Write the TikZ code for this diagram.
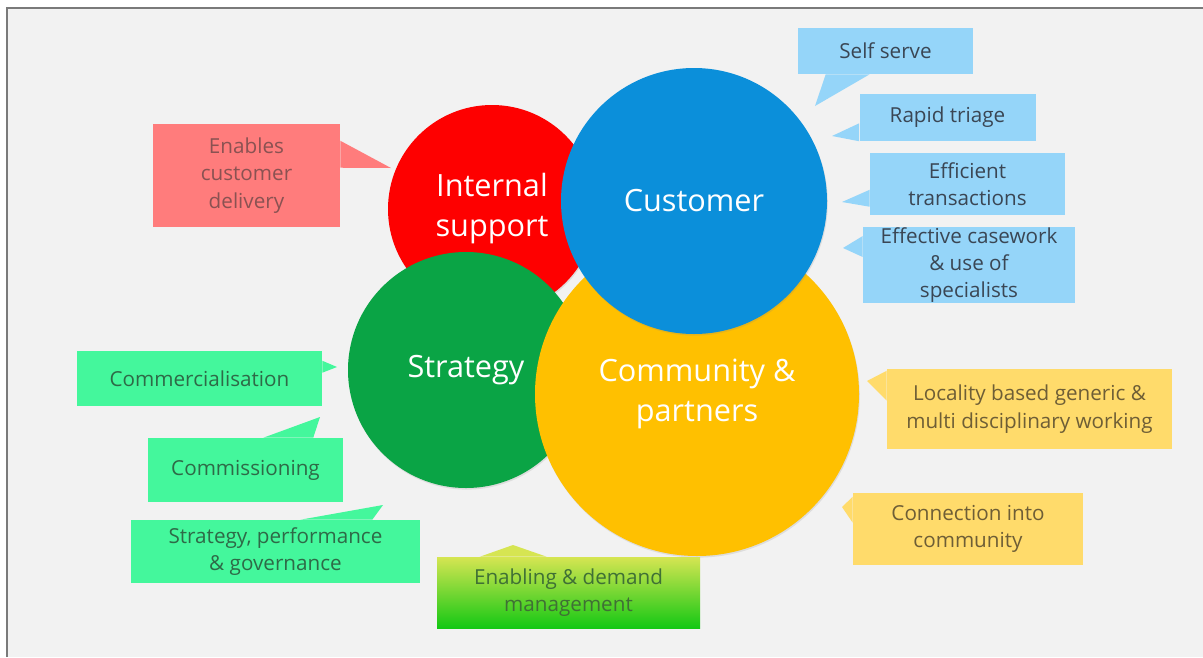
\documentclass[tikz,border=0pt]{standalone}
\usepackage{fontspec}
\setmainfont{Open Sans}
\usepackage{tikz}
\usetikzlibrary{calc,shadows}

\definecolor{slide}{HTML}{F2F2F2}
\definecolor{edge}{HTML}{7A7A7A}
\definecolor{cred}{HTML}{FE0000}
\definecolor{cblue}{HTML}{0B8FDA}
\definecolor{cgreen}{HTML}{0AA445}
\definecolor{cyellow}{HTML}{FFC000}
\definecolor{tred}{HTML}{FF7C7C}
\definecolor{tblue}{HTML}{95D5F9}
\definecolor{tmint}{HTML}{44F79C}
\definecolor{tyellow}{HTML}{FFDB6B}
\definecolor{ttop}{HTML}{D6E552}
\definecolor{tbot}{HTML}{14C814}
\definecolor{xred}{HTML}{8A5252}
\definecolor{xblue}{HTML}{3A4654}
\definecolor{xmint}{HTML}{2E6A47}
\definecolor{xyellow}{HTML}{6E5E36}
\definecolor{xgreen}{HTML}{3F7035}

\tikzset{
  bubble/.style={circle, inner sep=0pt, minimum size=#1*0.75pt, text=white, align=center,
    font=\fontsize{23}{30}\selectfont,
    drop shadow={shadow xshift=0.6pt, shadow yshift=-1.2pt, opacity=0.18}},
  tag/.style={inner sep=0pt, align=center, font=\fontsize{15.5}{20.5}\selectfont},
  wh/.style 2 args={minimum width=#1*0.75pt, minimum height=#2*0.75pt},
}

\begin{document}
\begin{tikzpicture}[x=0.75pt, y=-0.75pt]
\useasboundingbox (0,0) rectangle (1203,657);
\fill[slide] (7,8) rectangle (1203,657);
\draw[edge, line width=1.2pt] (7,657) -- (7,8) -- (1203,8);

% the four areas
\node[bubble=208, fill=cred] (int) at (492,209) {Internal\\support};
\node[bubble=236, fill=cgreen] (str) at (466,370) {Strategy};
\node[bubble=324, fill=cyellow] (com) at (697,394) {Community \&\\partners};
\node[bubble=266, fill=cblue] (cus) at (694,201) {Customer};

% internal support
\node[tag, wh={187}{103}, fill=tred, text=xred] (ecd) at (246.5,175.5) {Enables\\customer\\delivery};
\coordinate (ecdTip) at (391,168);
\fill[tred] ($(ecd.north east)+(0,17)$) -- (ecdTip) -- ($(ecd.north east)+(0,44)$) -- cycle;

% customer
\node[tag, wh={175}{46}, fill=tblue, text=xblue] (ss) at (885.5,51) {Self serve};
\node[tag, wh={176}{47}, fill=tblue, text=xblue] (rt) at (947.5,117.5) {Rapid triage};
\node[tag, wh={195}{62}, fill=tblue, text=xblue] (et) at (967.5,184) {Efficient\\transactions};
\node[tag, wh={212}{74}, fill=tblue, text=xblue] (ec) at (969,265) {Effective casework\\\& use of\\specialists};
\coordinate (ssTip) at (815,106);
\coordinate (rtTip) at (832,136);
\coordinate (etTip) at (842,202);
\coordinate (ecTip) at (843,248);
\fill[tblue] ($(ss.south west)+(28,0)$) -- (ssTip) -- ($(ss.south west)+(72,0)$) -- cycle;
\fill[tblue] ($(rt.south west)+(0,-18)$) -- (rtTip) -- (rt.south west) -- cycle;
\fill[tblue] ($(et.north west)+(0,37)$) -- (etTip) -- ($(et.north west)+(0,54)$) -- cycle;
\fill[tblue] ($(ec.north west)+(0,9)$) -- (ecTip) -- ($(ec.north west)+(0,30)$) -- cycle;

% community & partners
\node[tag, wh={285}{80}, fill=tyellow, text=xyellow] (lb) at (1029.5,409) {Locality based generic \&\\multi disciplinary working};
\node[tag, wh={230}{72}, fill=tyellow, text=xyellow] (ci) at (968,529) {Connection into\\community};
\coordinate (lbTip) at (867,381);
\coordinate (ciTip) at (842,507);
\fill[tyellow] ($(lb.north west)+(0,2)$) -- (lbTip) -- ($(lb.north west)+(0,32)$) -- cycle;
\fill[tyellow] ($(ci.north west)+(0,4)$) -- (ciTip) -- ($(ci.north west)+(0,30)$) -- cycle;

% strategy
\node[tag, wh={245}{55}, fill=tmint, text=xmint] (cm) at (199.5,378.5) {Commercialisation};
\node[tag, wh={195}{64}, fill=tmint, text=xmint] (cs) at (245.5,470) {Commissioning};
\node[tag, wh={289}{63}, fill=tmint, text=xmint] (sp) at (275.5,551.5) {Strategy, performance\\\& governance};
\coordinate (cmTip) at (337,367);
\coordinate (csTip) at (320,417);
\coordinate (spTip) at (383,505);
\fill[tmint] ($(cm.north east)+(0,10)$) -- (cmTip) -- ($(cm.north east)+(0,22)$) -- cycle;
\fill[tmint] ($(cs.north east)+(-80,0)$) -- (csTip) -- ($(cs.north east)+(-30,0)$) -- cycle;
\fill[tmint] ($(sp.north east)+(-120,0)$) -- (spTip) -- ($(sp.north east)+(-48,0)$) -- cycle;

% enabling
\node[tag, wh={263}{71}, top color=ttop, bottom color=tbot, text=xgreen] (ed) at (568.5,592.5) {Enabling \& demand\\management};
\coordinate (edTip) at (513,545);
\fill[ttop] ($(ed.north west)+(43,0)$) -- (edTip) -- ($(ed.north west)+(110,0)$) -- cycle;
\end{tikzpicture}
\end{document}
